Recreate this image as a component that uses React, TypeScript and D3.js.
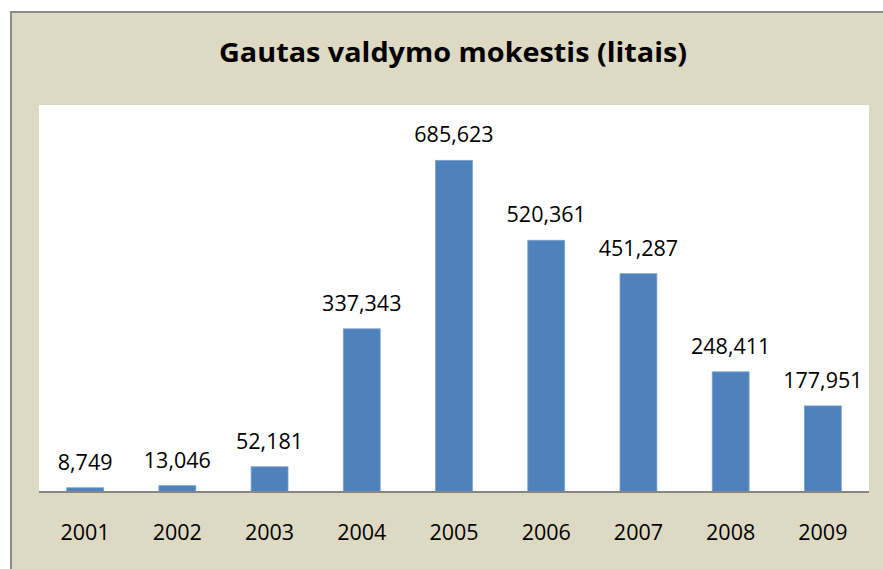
import React from "react";
import * as d3 from "d3";

const years = ["2001", "2002", "2003", "2004", "2005", "2006", "2007", "2008", "2009"];
const values = [8749, 13046, 52181, 337343, 685623, 520361, 451287, 248411, 177951];
const title = "Gautas valdymo mokestis (litais)";
const yMax = 800000;

export default function App() {
  const W = 883, H = 569;
  const plot = { left: 39, right: 869, top: 105, bottom: 492 };
  const x = d3.scaleBand<string>().domain(years).range([plot.left, plot.right]).paddingInner(0.6).paddingOuter(0.3);
  const y = d3.scaleLinear().domain([0, yMax]).range([plot.bottom, plot.top]);
  const fmt = d3.format(",");
  const font = "'Open Sans', sans-serif";
  return (
    <svg width={W} height={H} style={{ position: "absolute", left: 0, top: 0 }}>
      <rect x={0} y={0} width={W} height={H} fill="#ffffff" />
      <rect x={11} y={12} width={W} height={H} fill="#DDD9C3" stroke="#8c8c8c" strokeWidth={2} />
      <text x={453} y={62} textAnchor="middle" fontFamily={font} fontWeight="bold" fontSize={26} textLength={468} lengthAdjust="spacingAndGlyphs" fill="#000">{title}</text>
      <rect x={plot.left} y={plot.top} width={plot.right - plot.left} height={plot.bottom - plot.top} fill="#ffffff" />
      {values.map((v, i) => (
        <g key={years[i]}>
          <rect x={x(years[i])!} y={y(v)} width={x.bandwidth()} height={plot.bottom - y(v)} fill="#4F81BD" stroke="#7DA1D0" strokeWidth={0.8} />
          <text x={x(years[i])! + x.bandwidth() / 2} y={y(v) - 18} textAnchor="middle" fontFamily={font} fontSize={21.5} fill="#000">{fmt(v)}</text>
          <text x={x(years[i])! + x.bandwidth() / 2} y={540} textAnchor="middle" fontFamily={font} fontSize={21.5} fill="#000">{years[i]}</text>
        </g>
      ))}
      <line x1={plot.left} x2={plot.right} y1={plot.bottom} y2={plot.bottom} stroke="#868686" strokeWidth={2} />
    </svg>
  );
}
